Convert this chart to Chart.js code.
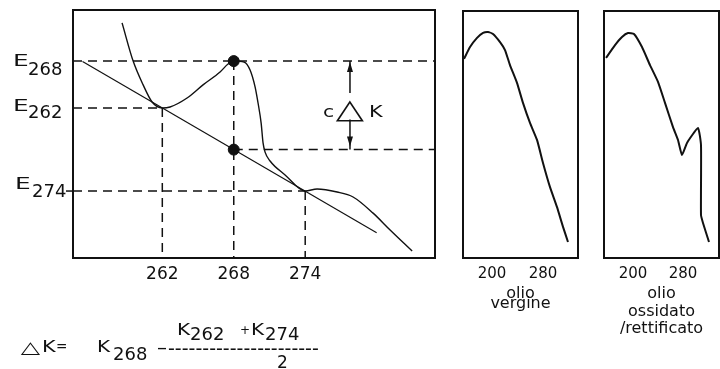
<!DOCTYPE html>
<html>
<head>
<meta charset="utf-8">
<script src="https://cdn.jsdelivr.net/npm/chart.js@4.4.1/dist/chart.umd.min.js"></script>
<style>
  body { margin: 0; background: #fff; width: 720px; height: 369px; overflow: hidden; position: relative; }
  canvas { position: absolute; top: 0; }
  #chart_main { left: 0; }
  #chart_vergine { left: 450px; }
  #chart_ossidato { left: 590px; }
</style>
</head>
<body>
<canvas id="chart_main" width="450" height="369"></canvas>
<canvas id="chart_vergine" width="140" height="369"></canvas>
<canvas id="chart_ossidato" width="130" height="369"></canvas>
<script>
// spectrum around 268 nm (absorbance, arbitrary units)
const mainNm = [258.62, 259.55, 260.39, 261.14, 262, 262.65, 264.08, 265.42, 266.85, 267.52, 268, 268.87, 269.37, 269.79, 270.04, 270.30, 270.46, 270.63, 271.05, 272.31, 274, 275.00, 276.68, 278.02, 279.70, 281.13, 282.98];
const mainAbs = [0.948, 0.794, 0.698, 0.629, 0.605, 0.609, 0.645, 0.698, 0.750, 0.782, 0.794, 0.790, 0.758, 0.690, 0.625, 0.544, 0.464, 0.427, 0.391, 0.335, 0.270, 0.278, 0.266, 0.246, 0.181, 0.113, 0.028];

// straight line through E262 and E274
const baseNm = [255.3, 280.0];
const baseAbs = [0.792, 0.102];

const eWaves = [268, 262, 274];
const eLevels = [0.794, 0.605, 0.270];
const dotLevel = 0.437;
const annoNm = 277.76;
const mainTicks = [262, 268, 274];

// olio vergine
const vergineNm = [156.1, 165.5, 176.5, 185.9, 193.7, 201.6, 212.6, 220.4, 228.2, 239.2, 248.6, 259.6, 270.6, 280.0, 291.0, 302.0, 311.4, 319.2];
const vergineAbs = [0.806, 0.854, 0.891, 0.911, 0.915, 0.907, 0.874, 0.842, 0.781, 0.709, 0.628, 0.547, 0.478, 0.385, 0.287, 0.206, 0.126, 0.065];

// olio ossidato / rettificato
const ossidatoNm = [156.8, 171.2, 182.4, 192.0, 201.6, 214.4, 227.2, 240.0, 251.2, 264.0, 272.0, 278.4, 286.4, 304.0, 308.8, 308.8, 312.0, 321.6];
const ossidatoAbs = [0.810, 0.862, 0.895, 0.911, 0.907, 0.854, 0.781, 0.713, 0.628, 0.530, 0.478, 0.417, 0.466, 0.526, 0.457, 0.174, 0.142, 0.065];

const sideTicks = [200, 280];

Chart.defaults.font.family = '"DejaVu Sans", sans-serif';
Chart.defaults.color = '#111';
Chart.defaults.animation = false;
Chart.defaults.plugins.legend.display = false;
Chart.defaults.plugins.tooltip.enabled = false;

const ink = '#111';
const FONT = '"DejaVu Sans"';

function toPoints(xs, ys) {
  return xs.map((v, i) => ({ x: v, y: ys[i] }));
}

function dashed(points) {
  return { data: points, showLine: true, borderColor: ink, borderWidth: 1.5, borderDash: [9, 6], pointRadius: 0 };
}

function stretchText(ctx, str, x, y, size, sx, sy) {
  ctx.save();
  ctx.translate(x, y);
  ctx.scale(sx || 1, sy || 1);
  ctx.font = size + 'px ' + FONT;
  ctx.fillText(str, 0, 0);
  ctx.restore();
}

const boxPlugin = {
  id: 'box',
  afterDatasetsDraw(chart) {
    const { ctx, chartArea: a } = chart;
    ctx.save();
    ctx.strokeStyle = ink;
    ctx.lineWidth = 2;
    ctx.strokeRect(a.left, a.top, a.right - a.left, a.bottom - a.top);
    ctx.restore();
  }
};

const mainDecor = {
  id: 'mainDecor',
  afterDraw(chart) {
    const { ctx, scales: { x, y } } = chart;
    ctx.save();
    ctx.fillStyle = ink;
    ctx.strokeStyle = ink;
    ctx.textAlign = 'left';
    ctx.textBaseline = 'alphabetic';

    // E labels on the left
    const offE = [5, 3, -2], offSub = [14, 10, 6], xE = [13, 13, 15], xSub = [28, 28, 32];
    eWaves.forEach((w, i) => {
      const py = y.getPixelForValue(eLevels[i]);
      stretchText(ctx, 'E', xE[i], py + offE[i], 16, 1.55);
      stretchText(ctx, String(w), xSub[i], py + offSub[i], 18);
    });
    // small tick left of the axis at E274
    const p274 = y.getPixelForValue(eLevels[2]);
    ctx.lineWidth = 1.5;
    ctx.beginPath(); ctx.moveTo(66, p274); ctx.lineTo(73, p274); ctx.stroke();

    // c delta K arrow
    const ax = x.getPixelForValue(annoNm);
    const yT = y.getPixelForValue(eLevels[0]);
    const yB = y.getPixelForValue(dotLevel);
    ctx.beginPath();
    ctx.moveTo(ax, yT); ctx.lineTo(ax, yT + 32);
    ctx.moveTo(ax, yB - 30); ctx.lineTo(ax, yB);
    ctx.stroke();
    ctx.beginPath();
    ctx.moveTo(ax, yT + 1); ctx.lineTo(ax - 3, yT + 11); ctx.lineTo(ax + 3, yT + 11); ctx.closePath();
    ctx.moveTo(ax, yB - 3); ctx.lineTo(ax - 3, yB - 13); ctx.lineTo(ax + 3, yB - 13); ctx.closePath();
    ctx.fill();
    stretchText(ctx, 'c', ax - 27, yT + 56, 15, 1.35);
    ctx.textAlign = 'center';
    stretchText(ctx, '△', ax, yT + 57, 35, 1.05, 0.78);
    ctx.textAlign = 'left';
    stretchText(ctx, 'K', ax + 19, yT + 56, 16, 1.3);

    // formula
    ctx.textAlign = 'center';
    stretchText(ctx, '△', 30.5, 353, 24, 1.05, 0.7);
    ctx.textAlign = 'left';
    stretchText(ctx, 'K', 42, 352, 16, 1.3);
    stretchText(ctx, '=', 56, 351, 16, 0.85);
    stretchText(ctx, 'K', 97, 352, 16, 1.25);
    stretchText(ctx, '268', 113, 360, 18);
    stretchText(ctx, '–', 157, 354, 20);
    stretchText(ctx, '-'.repeat(22), 168, 355, 19);
    stretchText(ctx, 'K', 177, 335, 16, 1.25);
    stretchText(ctx, '262', 190, 340, 18);
    stretchText(ctx, '+', 240, 334, 12);
    stretchText(ctx, 'K', 251, 335, 16, 1.25);
    stretchText(ctx, '274', 265, 340, 18);
    stretchText(ctx, '2', 277, 368, 17);
    ctx.restore();
  }
};

const xMin = 254.5, xMax = 284.9;

const mainDatasets = [
  { data: toPoints(mainNm, mainAbs), showLine: true, borderColor: ink, borderWidth: 1.4, pointRadius: 0, cubicInterpolationMode: 'monotone' },
  { data: toPoints(baseNm, baseAbs), showLine: true, borderColor: ink, borderWidth: 1.2, pointRadius: 0 },
  dashed([{ x: xMin, y: eLevels[0] }, { x: xMax, y: eLevels[0] }]),
  dashed([{ x: xMin, y: eLevels[1] }, { x: eWaves[1], y: eLevels[1] }]),
  dashed([{ x: xMin, y: eLevels[2] }, { x: eWaves[2], y: eLevels[2] }]),
  dashed([{ x: eWaves[0], y: dotLevel }, { x: xMax, y: dotLevel }])
];
eWaves.forEach((w, i) => {
  mainDatasets.push(dashed([{ x: w, y: eLevels[i] }, { x: w, y: 0 }]));
});
mainDatasets.push({
  data: [{ x: eWaves[0], y: eLevels[0] }, { x: eWaves[0], y: dotLevel }],
  showLine: false, pointRadius: 5.5, pointBackgroundColor: ink, pointBorderColor: ink
});

new Chart(document.getElementById('chart_main'), {
  type: 'scatter',
  data: { datasets: mainDatasets },
  options: {
    responsive: false,
    layout: { padding: { left: 73, right: 15, top: 10, bottom: 81 } },
    scales: {
      x: {
        type: 'linear', min: xMin, max: xMax,
        afterBuildTicks: s => { s.ticks = mainTicks.map(v => ({ value: v })); },
        afterFit: s => { s.height = 30; },
        grid: { display: false }, border: { display: false },
        ticks: { font: { size: 17 }, padding: -2, color: ink }
      },
      y: { type: 'linear', min: 0, max: 1, display: false }
    }
  },
  plugins: [boxPlugin, mainDecor]
});

function sideChart(id, nm, abs, min, max, title, lineHeight, titlePad, padLeft, padRight) {
  return new Chart(document.getElementById(id), {
    type: 'scatter',
    data: {
      datasets: [{ data: toPoints(nm, abs), showLine: true, borderColor: ink, borderWidth: 2, pointRadius: 0, tension: 0.15 }]
    },
    options: {
      responsive: false,
      layout: { padding: { left: padLeft, right: padRight, top: 11, bottom: 29 } },
      scales: {
        x: {
          type: 'linear', min: min, max: max,
          afterBuildTicks: s => { s.ticks = sideTicks.map(v => ({ value: v })); },
          afterFit: s => { s.height = 82; },
          grid: { display: false }, border: { display: false },
          ticks: { font: { size: 15 }, padding: -1, color: ink },
          title: { display: true, text: title, color: ink, font: { size: 16, lineHeight: lineHeight }, padding: { top: 0, bottom: titlePad } }
        },
        y: { type: 'linear', min: 0, max: 1, display: false }
      }
    },
    plugins: [boxPlugin]
  });
}

sideChart('chart_vergine', vergineNm, vergineAbs, 154.5, 334.9, ['olio', 'vergine'], 0.64, 31, 13, 12);
sideChart('chart_ossidato', ossidatoNm, ossidatoAbs, 153.6, 337.6, ['olio', 'ossidato', '/rettificato'], 1.1, 2, 14, 1);
</script>
</body>
</html>
